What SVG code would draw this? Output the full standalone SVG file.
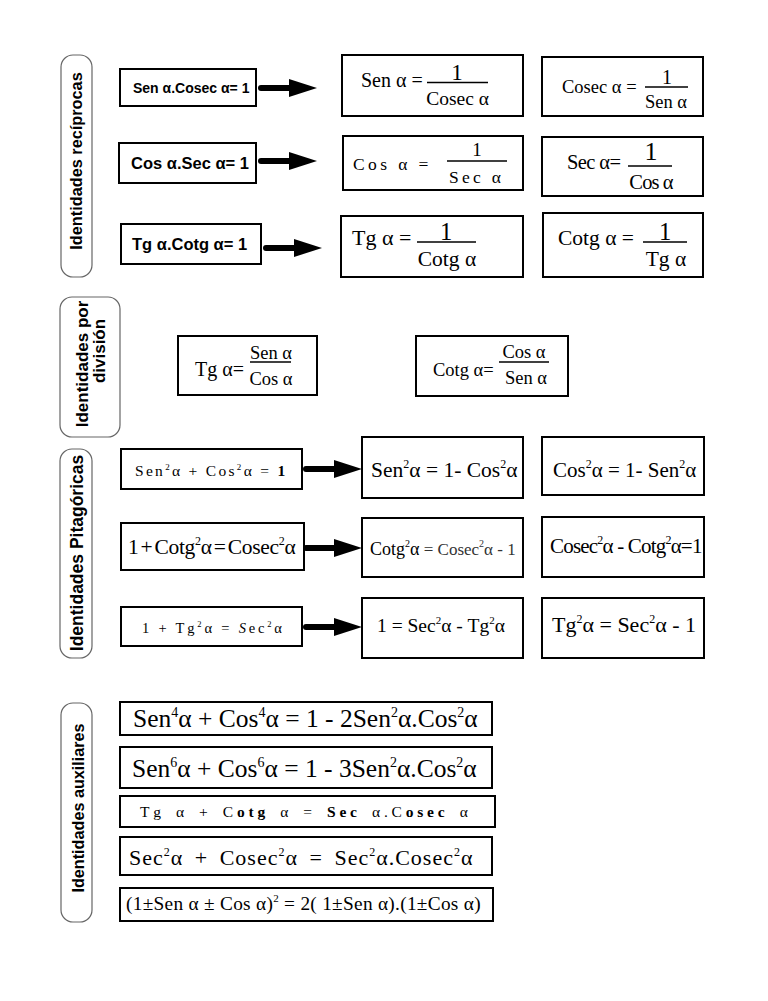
<svg xmlns="http://www.w3.org/2000/svg" width="768" height="1001" viewBox="0 0 768 1001">
<style>
.bx{fill:#fff;stroke:#000;stroke-width:2}
.lb{fill:#fff;stroke:#666;stroke-width:1.2}
.ss{font-family:"Liberation Sans",Arial,sans-serif;font-weight:bold;fill:#000}
.sf{font-family:"Liberation Serif","Times New Roman",serif;fill:#000}
.m{text-anchor:middle}
.bar{stroke:#000;stroke-width:1.3}
</style>
<defs>
<g id="arrow">
<path d="M0,0 H30" stroke="#000" stroke-width="6" stroke-linecap="round" fill="none"/>
<path d="M28,-9 L56,0 L28,9 Z" fill="#000"/>
</g>
</defs>
<rect width="768" height="1001" fill="#fff"/>

<!-- Section labels -->
<g id="lab-reciprocas"><rect class="lb" x="61" y="55" width="31" height="222" rx="12"/><text class="ss m" font-size="16.3" transform="translate(82,161) rotate(-90)">Identidades recíprocas</text></g>
<g id="lab-division"><rect class="lb" x="60" y="297" width="60" height="140" rx="12"/><text class="ss m" font-size="17" transform="translate(88,364) rotate(-90)">Identidades por</text><text class="ss m" font-size="17" transform="translate(105,351) rotate(-90)">división</text></g>
<g id="lab-pitagoricas"><rect class="lb" x="60" y="449" width="32" height="209" rx="12"/><text class="ss m" font-size="17.5" transform="translate(83,553) rotate(-90)">Identidades Pitagóricas</text></g>
<g id="lab-auxiliares"><rect class="lb" x="61" y="703" width="31" height="219" rx="12"/><text class="ss m" font-size="16.2" transform="translate(84,808) rotate(-90)">Identidades auxiliares</text></g>

<!-- Reciprocal identities -->
<g id="n-sen-cosec"><rect class="bx" x="120" y="69" width="136" height="37"/><text class="ss" x="133" y="93" font-size="14">Sen α.Cosec α= 1</text></g>
<g id="n-cos-sec"><rect class="bx" x="119" y="143" width="137" height="40"/><text class="ss" x="131" y="169" font-size="16.5">Cos α.Sec α= 1</text></g>
<g id="n-tg-cotg"><rect class="bx" x="121" y="224" width="140" height="40"/><text class="ss" x="132" y="250" font-size="16.5">Tg α.Cotg α= 1</text></g>

<g id="n-sen-frac"><rect class="bx" x="342" y="55" width="181" height="61"/><text class="sf" x="361" y="87" font-size="20">Sen α =</text><text class="sf m" x="457" y="80" font-size="23">1</text><line class="bar" x1="427" y1="82.5" x2="488" y2="82.5"/><text class="sf m" x="457.5" y="105" font-size="19.5">Cosec α</text></g>
<g id="n-cosec-frac"><rect class="bx" x="542" y="57" width="161" height="59"/><text class="sf" x="562" y="93" font-size="18.5">Cosec α =</text><text class="sf m" x="667" y="84" font-size="20">1</text><line class="bar" x1="645" y1="87" x2="688" y2="87"/><text class="sf m" x="666" y="108" font-size="18.5">Sen α</text></g>
<g id="n-cos-frac"><rect class="bx" x="343" y="136" width="180" height="54"/><text class="sf" x="353" y="170" font-size="17.5" letter-spacing="3.4">Cos α =</text><text class="sf m" x="477" y="156" font-size="19">1</text><line class="bar" x1="447" y1="161" x2="507" y2="161"/><text class="sf" x="449" y="183" font-size="17.5" letter-spacing="3.3">Sec α</text></g>
<g id="n-sec-frac"><rect class="bx" x="542" y="137" width="161" height="59"/><text class="sf" x="567" y="169" font-size="20.5" letter-spacing="-0.6">Sec α=</text><text class="sf m" x="651" y="160" font-size="26">1</text><line class="bar" x1="628" y1="166" x2="672" y2="166"/><text class="sf m" x="651" y="189" font-size="20.5" letter-spacing="-0.9">Cos α</text></g>
<g id="n-tg-frac"><rect class="bx" x="341" y="216" width="182" height="61"/><text class="sf" x="352" y="245" font-size="22">Tg α =</text><text class="sf m" x="446" y="239.5" font-size="24.5">1</text><line class="bar" x1="417" y1="242" x2="476" y2="242"/><text class="sf m" x="447" y="266" font-size="21.5">Cotg α</text></g>
<g id="n-cotg-frac"><rect class="bx" x="543" y="213" width="160" height="64"/><text class="sf" x="558" y="245" font-size="21.5">Cotg α =</text><text class="sf m" x="665" y="240" font-size="24.5">1</text><line class="bar" x1="643" y1="242" x2="687" y2="242"/><text class="sf m" x="666" y="266" font-size="21.5">Tg α</text></g>

<!-- Division identities -->
<g id="n-tg-div"><rect class="bx" x="178" y="336" width="139" height="59"/><text class="sf" x="195" y="376" font-size="20">Tg α=</text><text class="sf m" x="271" y="358.5" font-size="18.5">Sen α</text><line class="bar" x1="250" y1="362" x2="291" y2="362"/><text class="sf m" x="271" y="385" font-size="18.5">Cos α</text></g>
<g id="n-cotg-div"><rect class="bx" x="416" y="336" width="152" height="60"/><text class="sf" x="433" y="376" font-size="18.5">Cotg α=</text><text class="sf m" x="524" y="358" font-size="18.5">Cos α</text><line class="bar" x1="499" y1="362" x2="549" y2="362"/><text class="sf m" x="526" y="384" font-size="18.5">Sen α</text></g>

<!-- Pythagorean identities -->
<g id="n-pit1"><rect class="bx" x="121" y="449" width="181" height="40"/><text class="sf" x="135" y="476" font-size="15.5" letter-spacing="2.3">Sen<tspan font-size="9" dy="-6">2</tspan><tspan dy="6">α + Cos</tspan><tspan font-size="9" dy="-6">2</tspan><tspan dy="6">α = </tspan><tspan font-weight="bold">1</tspan></text></g>
<g id="n-pit2"><rect class="bx" x="121" y="523" width="183" height="47"/><text class="sf" x="128" y="554" font-size="21.5" letter-spacing="-0.3" word-spacing="-3">1 + Cotg<tspan font-size="12" dy="-9">2</tspan><tspan dy="9">α = Cosec</tspan><tspan font-size="12" dy="-9">2</tspan><tspan dy="9">α</tspan></text></g>
<g id="n-pit3"><rect class="bx" x="121" y="607" width="181" height="39"/><text class="sf" x="142" y="633" font-size="14.5" letter-spacing="2.8" fill="#222">1 + Tg<tspan font-size="8.5" dy="-6">2</tspan><tspan dy="6">α = </tspan><tspan font-style="italic">S</tspan>ec<tspan font-size="8.5" dy="-6">2</tspan><tspan dy="6">α</tspan></text></g>

<g id="n-sen2"><rect class="bx" x="362" y="437" width="161" height="61"/><text class="sf" x="371" y="477" font-size="21.5">Sen<tspan font-size="12" dy="-9">2</tspan><tspan dy="9">α = 1- Cos</tspan><tspan font-size="12" dy="-9">2</tspan><tspan dy="9">α</tspan></text></g>
<g id="n-cos2"><rect class="bx" x="542" y="437" width="162" height="58"/><text class="sf" x="553" y="477" font-size="21">Cos<tspan font-size="12" dy="-9">2</tspan><tspan dy="9">α = 1- Sen</tspan><tspan font-size="12" dy="-9">2</tspan><tspan dy="9">α</tspan></text></g>
<g id="n-cotg2"><rect class="bx" x="362" y="518" width="161" height="59"/><text class="sf" x="370" y="555"><tspan font-size="18">Cotg</tspan><tspan font-size="10" dy="-8">2</tspan><tspan font-size="18" dy="8">α</tspan><tspan font-size="17" fill="#333"> = Cosec</tspan><tspan font-size="10" dy="-8" fill="#333">2</tspan><tspan font-size="17" dy="8" fill="#333">α - 1</tspan></text></g>
<g id="n-cosec2"><rect class="bx" x="542" y="517" width="162" height="60"/><text class="sf" x="550" y="553" font-size="21" letter-spacing="-0.8">Cosec<tspan font-size="12" dy="-9">2</tspan><tspan dy="9">α - Cotg</tspan><tspan font-size="12" dy="-9">2</tspan><tspan dy="9">α=1</tspan></text></g>
<g id="n-one"><rect class="bx" x="362" y="598" width="161" height="60"/><text class="sf" x="377" y="632" font-size="19.5">1 = Sec<tspan font-size="11" dy="-8">2</tspan><tspan dy="8">α - Tg</tspan><tspan font-size="11" dy="-8">2</tspan><tspan dy="8">α</tspan></text></g>
<g id="n-tg2"><rect class="bx" x="542" y="598" width="162" height="60"/><text class="sf" x="552" y="632" font-size="22">Tg<tspan font-size="12" dy="-9">2</tspan><tspan dy="9">α = Sec</tspan><tspan font-size="12" dy="-9">2</tspan><tspan dy="9">α - 1</tspan></text></g>

<!-- Auxiliary identities -->
<g id="n-aux1"><rect class="bx" x="120" y="702" width="372" height="33"/><text class="sf" x="133" y="727" font-size="25.5">Sen<tspan font-size="14" dy="-10">4</tspan><tspan dy="10">α + Cos</tspan><tspan font-size="14" dy="-10">4</tspan><tspan dy="10">α = 1 - 2Sen</tspan><tspan font-size="14" dy="-10">2</tspan><tspan dy="10">α.Cos</tspan><tspan font-size="14" dy="-10">2</tspan><tspan dy="10">α</tspan></text></g>
<g id="n-aux2"><rect class="bx" x="120" y="747" width="372" height="41"/><text class="sf" x="132" y="777" font-size="25.5">Sen<tspan font-size="14" dy="-10">6</tspan><tspan dy="10">α + Cos</tspan><tspan font-size="14" dy="-10">6</tspan><tspan dy="10">α = 1 - 3Sen</tspan><tspan font-size="14" dy="-10">2</tspan><tspan dy="10">α.Cos</tspan><tspan font-size="14" dy="-10">2</tspan><tspan dy="10">α</tspan></text></g>
<g id="n-aux3"><rect class="bx" x="120" y="796" width="375" height="31"/><text class="sf" x="140" y="817" font-size="15.5" letter-spacing="3.8" word-spacing="3.5">Tg α + C<tspan font-weight="bold">otg</tspan> α = <tspan font-weight="bold">Sec</tspan> α.C<tspan font-weight="bold">osec</tspan> α</text></g>
<g id="n-aux4"><rect class="bx" x="120" y="837" width="372" height="38"/><text class="sf" x="129" y="865" font-size="22" letter-spacing="1" word-spacing="5">Sec<tspan font-size="12" dy="-9">2</tspan><tspan dy="9">α + Cosec</tspan><tspan font-size="12" dy="-9">2</tspan><tspan dy="9">α = Sec</tspan><tspan font-size="12" dy="-9">2</tspan><tspan dy="9">α.Cosec</tspan><tspan font-size="12" dy="-9">2</tspan><tspan dy="9">α</tspan></text></g>
<g id="n-aux5"><rect class="bx" x="120" y="888" width="373" height="33"/><text class="sf" x="126" y="910" font-size="19.3" letter-spacing="0.3">(1±Sen α ± Cos α)<tspan font-size="11" dy="-8">2</tspan><tspan dy="8"> = 2( 1±Sen α).(1±Cos α)</tspan></text></g>

<!-- Connectors -->
<g id="connectors">
<use href="#arrow" x="261" y="88"/>
<use href="#arrow" x="261" y="161"/>
<use href="#arrow" x="266" y="248"/>
<use href="#arrow" x="306" y="469"/>
<use href="#arrow" x="306" y="548"/>
<use href="#arrow" x="306" y="627"/>
</g>
</svg>
